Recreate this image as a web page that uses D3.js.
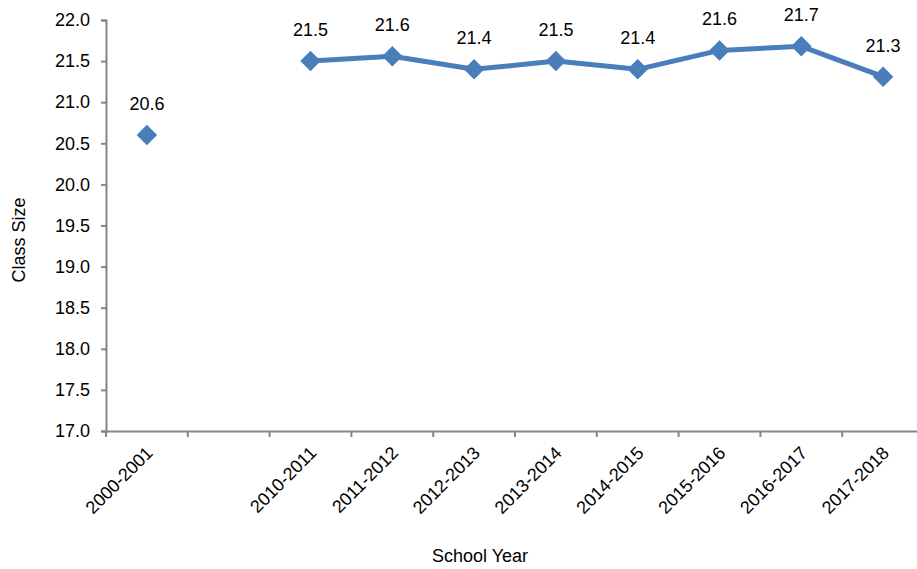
<!DOCTYPE html>
<html><head><meta charset="utf-8">
<script src="https://cdn.jsdelivr.net/npm/d3@7"></script>
<style>body{margin:0;background:#fff;} svg{display:block;font-family:"Liberation Sans",Arial,sans-serif;}</style>
</head><body>
<svg id="c" width="917" height="569"></svg>
<script>
const categories = ["2000-2001", "", "2010-2011", "2011-2012", "2012-2013", "2013-2014", "2014-2015", "2015-2016", "2016-2017", "2017-2018"];
const values = [20.6, null, 21.5, 21.56, 21.4, 21.5, 21.4, 21.63, 21.68, 21.31];
const yTicks = [17.0, 17.5, 18.0, 18.5, 19.0, 19.5, 20.0, 20.5, 21.0, 21.5, 22.0];
const xTitle = "School Year";
const yTitle = "Class Size";

(function () {
const svg = d3.select("#c");
const mLeft = 106, mRight = 924, mTop = 20, mBottom = 431;
const fs = 18;
const x = d3.scaleBand().domain(categories).range([mLeft, mRight]);
const y = d3.scaleLinear().domain([17, 22]).range([mBottom, mTop]);
const axisColor = "#868686";
const blue = "#4A7EBB";

// y axis
const ya = svg.append("g").attr("transform", `translate(${mLeft},0)`)
  .call(d3.axisLeft(y).tickValues(yTicks).tickFormat(d3.format(".1f")).tickSize(5).tickPadding(11));
ya.select(".domain").attr("stroke", axisColor).attr("stroke-width", 2);
ya.selectAll(".tick line").attr("stroke", axisColor).attr("stroke-width", 2);
ya.selectAll(".tick text").attr("font-size", fs).attr("fill", "#000").attr("font-family", "Liberation Sans, Arial, sans-serif");

// x axis
const xa = svg.append("g").attr("transform", `translate(0,${mBottom})`)
  .call(d3.axisBottom(x).tickSize(0).tickFormat(""));
xa.select(".domain").attr("stroke", axisColor).attr("stroke-width", 2);
// boundary ticks between categories (Excel style)
const bounds = categories.map(c => x(c)).concat([mRight]);
svg.append("g").selectAll("line").data(bounds).join("line")
  .attr("x1", d => d).attr("x2", d => d).attr("y1", mBottom).attr("y2", mBottom + 6)
  .attr("stroke", axisColor).attr("stroke-width", 2);
// rotated labels
svg.append("g").selectAll("text").data(categories).join("text")
  .attr("transform", d => `translate(${x(d) + x.bandwidth() / 2 - 2},${mBottom + 14}) rotate(-45)`)
  .attr("text-anchor", "end").attr("dy", "0.71em").attr("font-size", fs).attr("fill", "#000")
  .text(d => d);

// line
const pts = categories.map((c, i) => ({c, v: values[i]}));
const line = d3.line().defined(d => d.v != null)
  .x(d => x(d.c) + x.bandwidth() / 2).y(d => y(d.v));
svg.append("path").datum(pts).attr("d", line).attr("fill", "none")
  .attr("stroke", blue).attr("stroke-width", 5).attr("stroke-linejoin", "round");

// markers
svg.append("g").selectAll("path").data(pts.filter(d => d.v != null)).join("path")
  .attr("transform", d => `translate(${x(d.c) + x.bandwidth() / 2},${y(d.v)}) rotate(45)`)
  .attr("d", d3.symbol().type(d3.symbolSquare).size(210))
  .attr("fill", blue);

// data labels
svg.append("g").selectAll("text").data(pts.filter(d => d.v != null)).join("text")
  .attr("x", d => x(d.c) + x.bandwidth() / 2).attr("y", d => y(d.v) - 25)
  .attr("text-anchor", "middle").attr("font-size", fs).attr("fill", "#000")
  .text(d => d3.format(".1f")(d.v));

// titles
svg.append("text").attr("x", 480).attr("y", 562).attr("text-anchor", "middle")
  .attr("font-size", fs).attr("fill", "#000").text(xTitle);
svg.append("text").attr("transform", "translate(25,240) rotate(-90)").attr("text-anchor", "middle")
  .attr("font-size", fs).attr("fill", "#000").text(yTitle);
})();
</script>
</body></html>
